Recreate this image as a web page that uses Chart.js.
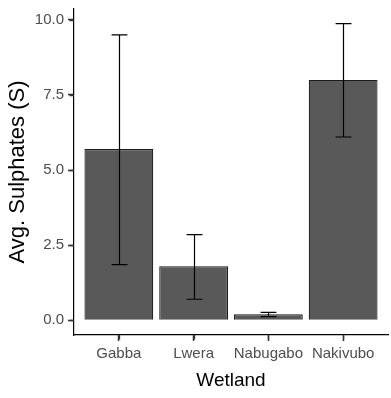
<!DOCTYPE html>
<html>
<head>
<meta charset="utf-8">
<script src="https://cdn.jsdelivr.net/npm/chart.js@4.4.0/dist/chart.umd.min.js"></script>
<style>
  html, body { margin: 0; padding: 0; background: #fff; }
  #wrap { width: 391px; height: 398px; }
</style>
</head>
<body>
<div id="wrap"><canvas id="chart" width="391" height="398"></canvas></div>
<script>
// values
const wetlands = ['Gabba', 'Lwera', 'Nabugabo', 'Nakivubo'];
const avgSulphates = [5.7, 1.8, 0.2, 8.0];
const errLower = [1.85, 0.7, 0.12, 6.1];
const errUpper = [9.5, 2.85, 0.26, 9.87];
const yTicks = [0, 2.5, 5, 7.5, 10];

// bars sit on a linear x scale so the ggplot-style padding (0.6 each side) can be kept
const barData = avgSulphates.map((v, i) => ({ x: i + 1, y: v }));

const errorBars = {
    id: 'errorBars',
    afterDatasetsDraw(chart) {
        const ctx = chart.ctx;
        const meta = chart.getDatasetMeta(0);
        const yScale = chart.scales.y;
        ctx.save();
        ctx.strokeStyle = '#000';
        ctx.lineWidth = 1.2;
        meta.data.forEach((bar, i) => {
            const x = Math.round(bar.x) + 0.5;
            const hw = bar.width * 0.115;
            const yLo = yScale.getPixelForValue(errLower[i]);
            const yHi = yScale.getPixelForValue(errUpper[i]);
            ctx.beginPath();
            ctx.moveTo(x, yLo);
            ctx.lineTo(x, yHi);
            ctx.moveTo(x - hw, yLo);
            ctx.lineTo(x + hw, yLo);
            ctx.moveTo(x - hw, yHi);
            ctx.lineTo(x + hw, yHi);
            ctx.stroke();
        });
        ctx.restore();
    }
};

// short outside tick marks, placed from the scales' own ticks
const axisTicks = {
    id: 'axisTicks',
    afterDraw(chart) {
        const ctx = chart.ctx;
        const area = chart.chartArea;
        const xs = chart.scales.x, ys = chart.scales.y;
        ctx.save();
        ctx.strokeStyle = '#333';
        ctx.lineWidth = 1.3;
        ctx.beginPath();
        xs.ticks.forEach(t => {
            const px = Math.round(xs.getPixelForValue(t.value)) + 0.5;
            ctx.moveTo(px, area.bottom);
            ctx.lineTo(px, area.bottom + 4.5);
        });
        ys.ticks.forEach(t => {
            const py = Math.round(ys.getPixelForValue(t.value)) + 0.5;
            ctx.moveTo(area.left, py);
            ctx.lineTo(area.left - 4.5, py);
        });
        ctx.stroke();
        ctx.restore();
    }
};

const tickFont = { family: 'Liberation Sans, Arial, sans-serif', size: 15 };

new Chart(document.getElementById('chart').getContext('2d'), {
    type: 'bar',
    data: {
        datasets: [{
            label: 'Avg. Sulphates (S)',
            data: barData,
            backgroundColor: '#595959',
            borderColor: '#1a1a1a',
            borderWidth: 1.2,
            barPercentage: 0.92,
            categoryPercentage: 1.0
        }]
    },
    options: {
        responsive: false,
        animation: false,
        layout: { padding: { top: 9, right: 3, left: 0, bottom: 0 } },
        plugins: {
            legend: { display: false },
            tooltip: { enabled: false }
        },
        scales: {
            x: {
                type: 'linear',
                offset: false,
                min: 0.4,
                max: 4.6,
                afterBuildTicks: (scale) => {
                    scale.ticks = wetlands.map((w, i) => ({ value: i + 1 }));
                },
                afterFit: (scale) => {
                    scale.height = 63;
                    scale.paddingLeft = 0;
                    scale.paddingRight = 0;
                },
                grid: { offset: false, drawOnChartArea: false, drawTicks: true, tickLength: 6, tickColor: '#333', tickWidth: 1.5 },
                border: { display: true, color: '#000', width: 1.2 },
                ticks: {
                    color: '#4d4d4d',
                    font: tickFont,
                    padding: 4,
                    maxRotation: 0,
                    autoSkip: false,
                    callback: (v) => wetlands[v - 1]
                },
                title: {
                    display: true,
                    text: 'Wetland',
                    color: '#000',
                    font: { family: 'Liberation Sans, Arial, sans-serif', size: 19 },
                    padding: { top: 0, bottom: 6 }
                }
            },
            y: {
                min: -0.49,
                max: 10.36,
                afterBuildTicks: (scale) => {
                    scale.ticks = yTicks.map(v => ({ value: v }));
                },
                afterFit: (scale) => {
                    scale.width = 74;
                    scale.paddingTop = 0;
                    scale.paddingBottom = 0;
                },
                grid: { drawOnChartArea: false, drawTicks: true, tickLength: 6, tickColor: '#333', tickWidth: 1.5 },
                border: { display: true, color: '#000', width: 1.2 },
                ticks: {
                    color: '#4d4d4d',
                    font: tickFont,
                    padding: 4,
                    callback: (v) => v.toFixed(1)
                },
                title: {
                    display: true,
                    text: 'Avg. Sulphates (S)',
                    color: '#000',
                    font: { family: 'Liberation Sans, Arial, sans-serif', size: 22 },
                    padding: { top: 5, bottom: 0 }
                }
            }
        }
    },
    plugins: [errorBars, axisTicks]
});
</script>
</body>
</html>
